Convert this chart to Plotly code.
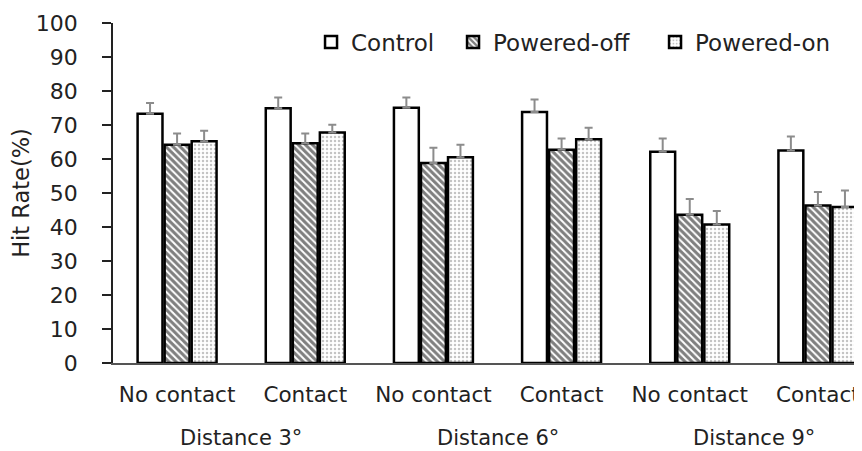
import plotly.graph_objects as go

categories = ["No contact", "Contact", "No contact", "Contact", "No contact", "Contact"]
distances = ["Distance 3°", "Distance 6°", "Distance 9°"]
control = [73.3, 74.9, 75.1, 73.8, 62.1, 62.5]
control_err = [3.2, 3.2, 3.0, 3.7, 3.9, 4.1]
powered_off = [64.2, 64.6, 58.8, 62.7, 43.6, 46.3]
powered_off_err = [3.3, 2.9, 4.5, 3.3, 4.6, 4.0]
powered_on = [65.2, 67.8, 60.5, 65.8, 40.7, 45.9]
powered_on_err = [3.1, 2.3, 3.7, 3.4, 4.0, 4.8]
y_ticks = [0, 10, 20, 30, 40, 50, 60, 70, 80, 90, 100]

FONT = "DejaVu Sans"
xs = list(range(len(categories)))

def make_bar(name, vals, errs, pattern, lw=None):
    return go.Bar(
        name=name, x=xs, y=vals, legendwidth=lw,
        marker=dict(color="white", line=dict(color="black", width=2.5), pattern=pattern),
        error_y=dict(type="data", symmetric=False, array=errs, arrayminus=[0] * len(errs),
                     color="#8c8c8c", thickness=2, width=4),
    )

fig = go.Figure()
fig.add_trace(make_bar("Control", control, control_err, dict(shape=""), 97))
fig.add_trace(make_bar("Powered-off", powered_off, powered_off_err,
                       dict(shape="\\", fgcolor="black", bgcolor="white", size=5, solidity=0.6), 157))
fig.add_trace(make_bar("Powered-on", powered_on, powered_on_err,
                       dict(shape=".", fgcolor="#888888", bgcolor="white", size=4, solidity=0.3)))

for i, d in enumerate(distances):
    fig.add_annotation(x=2 * i + 0.5, xref="x", y=-0.22, yref="paper", yanchor="middle",
                       text=d, showarrow=False, font=dict(family=FONT, size=21, color="#222222"))

# the page adds an 8px body margin; the figure is sized/margined to compensate
fig.update_layout(
    width=854, height=443,
    margin=dict(l=105, r=0, t=15, b=88),
    paper_bgcolor="white", plot_bgcolor="white",
    barmode="group", bargap=0.367, bargroupgap=0.08,
    font=dict(family=FONT, color="#222222"),
    showlegend=True,
    legend=dict(orientation="h", x=0.2644, xanchor="left", y=0.944, yanchor="middle",
                entrywidthmode="pixels",
                font=dict(family=FONT, size=23, color="#222222"), bgcolor="rgba(0,0,0,0)"),
    xaxis=dict(range=[-0.5, 5.344], tickvals=xs, ticktext=categories, showgrid=False,
               showline=True, linecolor="#555555", linewidth=1.5, ticks="",
               tickfont=dict(family=FONT, size=21.5, color="#222222"), ticklabelstandoff=11,
               zeroline=False),
    yaxis=dict(range=[0, 100], tickvals=y_ticks, showgrid=False, showline=True,
               linecolor="#222222", linewidth=1.5, ticks="outside", ticklen=9, tickwidth=1.5,
               tickcolor="#222222", tickfont=dict(family=FONT, size=22, color="#222222"),
               ticklabelstandoff=20, zeroline=False,
               title=dict(text="Hit Rate(%)", font=dict(family=FONT, size=22.5, color="#222222"),
                          standoff=2)),
)

fig.write_html("out.html")
